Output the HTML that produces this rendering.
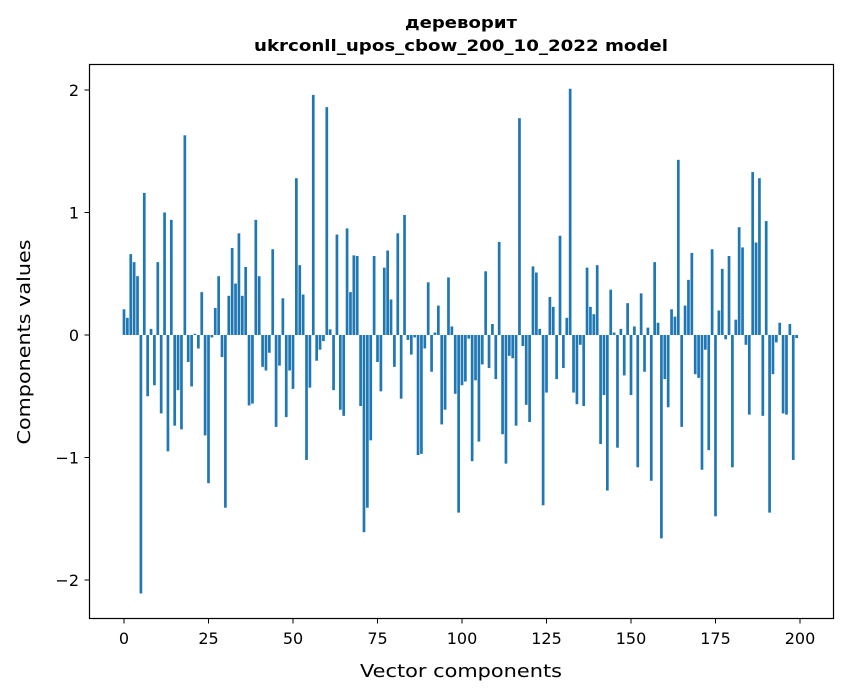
<!DOCTYPE html>
<html><head><meta charset="utf-8"><style>
body{margin:0;background:#fff;}
svg{display:block;font-family:"DejaVu Sans","Liberation Sans",sans-serif;}
</style></head><body>
<svg id="chart" width="847" height="696" viewBox="0 0 847 696" xmlns="http://www.w3.org/2000/svg">
<rect x="0" y="0" width="847" height="696" fill="#fff"/>
<text x="461" y="28" text-anchor="middle" font-size="16" font-weight="bold" textLength="112" lengthAdjust="spacingAndGlyphs">дереворит</text>
<text x="461" y="51" text-anchor="middle" font-size="16" font-weight="bold" textLength="414" lengthAdjust="spacingAndGlyphs">ukrconll_upos_cbow_200_10_2022 model</text>
<g id="bars"></g>
<g id="xticks"></g>
<g id="yticks"></g>
<rect x="89.5" y="64.5" width="744" height="554" fill="none" stroke="#000" stroke-width="1.2"/>
<text x="461" y="677" text-anchor="middle" font-size="18" textLength="202" lengthAdjust="spacingAndGlyphs">Vector components</text>
<text x="30" y="342" text-anchor="middle" font-size="18" textLength="205" lengthAdjust="spacingAndGlyphs" transform="rotate(-90 30 342)">Components values</text>
</svg>
<script>
const values = [
0.21,0.14,0.66,0.595,0.48,-2.11,1.16,-0.50,0.05,-0.41,
0.595,-0.64,1.00,-0.95,0.94,-0.74,-0.45,-0.77,1.63,-0.22,
-0.42,0.01,-0.11,0.35,-0.82,-1.21,-0.02,0.22,0.48,-0.18,
-1.41,0.32,0.71,0.42,0.83,0.32,0.555,-0.575,-0.56,0.94,
0.48,-0.26,-0.29,-0.145,0.70,-0.75,-0.25,0.30,-0.67,-0.29,
-0.44,1.28,0.57,0.33,-1.02,-0.43,1.96,-0.21,-0.12,-0.05,
1.86,0.046,-0.45,0.82,-0.61,-0.66,0.87,0.35,0.65,0.645,
-0.58,-1.61,-1.41,-0.86,0.645,-0.22,-0.46,0.55,0.69,0.29,
-0.26,0.83,-0.52,0.98,-0.04,-0.16,-0.02,-0.98,-0.97,-0.11,
0.43,-0.30,0.02,0.24,-0.73,-0.61,0.47,0.07,-0.48,-1.45,
-0.41,-0.38,-0.03,-1.03,-0.37,-0.87,-0.24,0.52,-0.27,0.09,
-0.36,0.76,-0.81,-1.05,-0.17,-0.19,-0.74,1.77,-0.09,-0.57,
-0.71,0.56,0.51,0.05,-1.39,-0.47,0.31,0.23,-0.36,0.81,
-0.27,0.14,2.01,-0.47,-0.565,-0.08,-0.58,0.55,0.23,0.17,
0.57,-0.89,-0.49,-1.27,0.37,0.02,-0.92,0.05,-0.33,0.26,
-0.49,0.07,-1.08,0.34,-0.30,0.06,-1.19,0.595,0.10,-1.66,
-0.36,-0.59,0.21,0.15,1.43,-0.75,0.24,0.45,0.67,-0.32,
-0.35,-1.10,-0.12,-0.94,0.70,-1.48,0.20,0.54,-0.035,0.645,
-1.08,0.125,0.88,0.715,-0.08,-0.65,1.33,0.755,1.28,-0.66,
0.93,-1.45,-0.32,-0.06,0.10,-0.64,-0.65,0.09,-1.02,-0.025
];
const xTickValues = [0,25,50,75,100,125,150,175,200];
const yTickValues = [-2,-1,0,1,2];
const yTickLabels = ["\u22122","\u22121","0","1","2"];

const NS = "http://www.w3.org/2000/svg";
function xScale(v){ return 124 + 3.38 * v; }
function yScale(v){ return 335 - 122.5 * v; }

const barsG = document.getElementById('bars');
values.forEach(function(v, i){
  const r = document.createElementNS(NS, 'rect');
  const y0 = yScale(0), y1 = yScale(v);
  r.setAttribute('x', xScale(i - 0.4));
  r.setAttribute('width', 3.38 * 0.8);
  r.setAttribute('y', Math.min(y0, y1));
  r.setAttribute('height', Math.max(Math.abs(y1 - y0), 0.3));
  r.setAttribute('fill', '#1f77b4');
  
  
  barsG.appendChild(r);
});

const xg = document.getElementById('xticks');
xTickValues.forEach(function(t){
  const x = xScale(t);
  const l = document.createElementNS(NS, 'line');
  l.setAttribute('x1', x); l.setAttribute('x2', x);
  l.setAttribute('y1', 618.5); l.setAttribute('y2', 623.5);
  l.setAttribute('stroke', '#000');
  
  
  xg.appendChild(l);
  const tx = document.createElementNS(NS, 'text');
  tx.setAttribute('x', x); tx.setAttribute('y', 644);
  tx.setAttribute('text-anchor', 'middle');
  tx.setAttribute('font-size', '16');
  tx.textContent = String(t);
  
  
  xg.appendChild(tx);
});

const yg = document.getElementById('yticks');
yTickValues.forEach(function(t, i){
  const y = yScale(t);
  const l = document.createElementNS(NS, 'line');
  l.setAttribute('x1', 84.5); l.setAttribute('x2', 89.5);
  l.setAttribute('y1', y); l.setAttribute('y2', y);
  l.setAttribute('stroke', '#000');
  
  
  yg.appendChild(l);
  const tx = document.createElementNS(NS, 'text');
  tx.setAttribute('x', 79); tx.setAttribute('y', y + 6);
  tx.setAttribute('text-anchor', 'end');
  tx.setAttribute('font-size', '16');
  tx.textContent = yTickLabels[i];
  
  
  yg.appendChild(tx);
});
</script>
</body></html>
